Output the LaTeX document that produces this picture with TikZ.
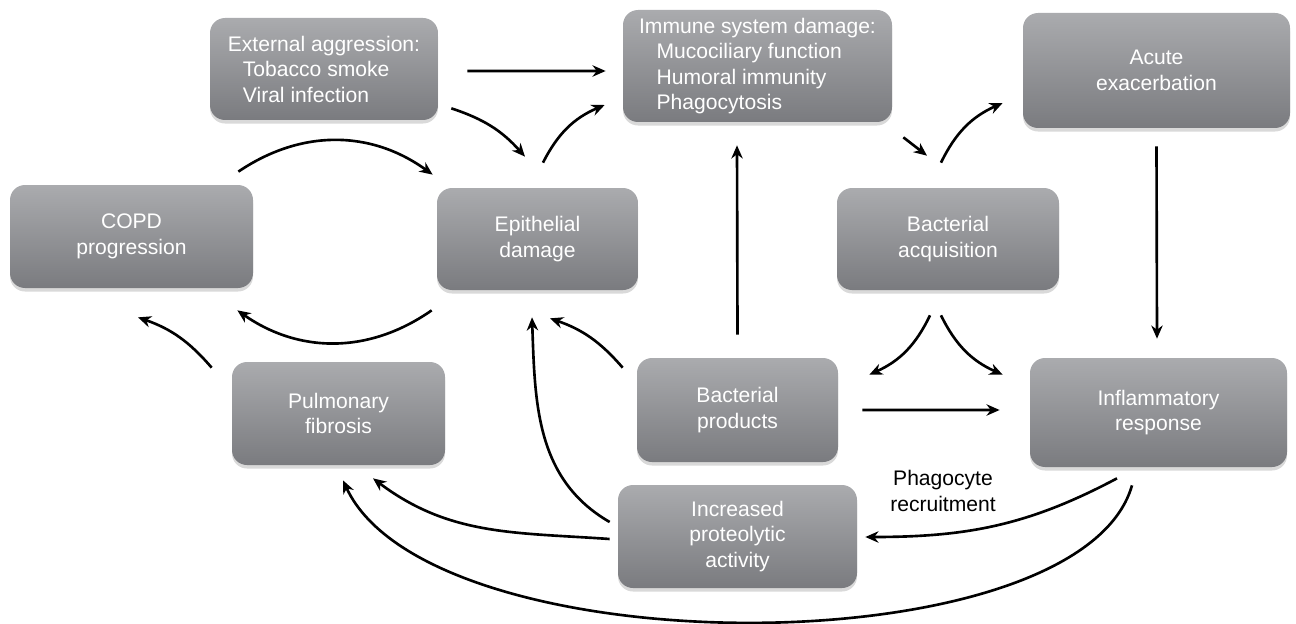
\documentclass[tikz,border=0pt]{standalone}
\usepackage{fontspec}
\setmainfont{Liberation Sans}
\usetikzlibrary{arrows.meta,shadows}

\definecolor{boxtop}{RGB}{170,171,174}
\definecolor{boxbot}{RGB}{122,123,127}

\begin{document}
\begin{tikzpicture}[>={Stealth[length=7.5pt,width=6.5pt]},
  box/.style={rounded corners=0.3cm, top color=boxtop, bottom color=boxbot,
    text=white, align=center, inner sep=0pt,
    font=\fontsize{12}{14.5}\selectfont,
    drop shadow={shadow xshift=0pt,shadow yshift=-2pt,opacity=0.3}},
  link/.style={->, line width=1.5pt}]
  \useasboundingbox (0,0) rectangle (25.92,12.46);
  % top row
  \node[box, align=left, minimum width=4.56cm, minimum height=2.04cm] (ext) at (6.48,11.08)
    {External aggression:\\\hspace*{0.3cm}Tobacco smoke\\\hspace*{0.3cm}Viral infection};
  \node[box, align=left, minimum width=5.38cm, minimum height=2.24cm] (imm) at (15.15,11.14)
    {Immune system damage:\\\hspace*{0.35cm}Mucociliary function\\\hspace*{0.35cm}Humoral immunity\\\hspace*{0.35cm}Phagocytosis};
  \node[box, minimum width=5.34cm, minimum height=2.30cm] (acute) at (23.13,11.05) {Acute\\exacerbation};
  % middle row
  \node[box, minimum width=4.86cm, minimum height=2.06cm] (copd) at (2.63,7.73) {COPD\\progression};
  \node[box, minimum width=4.02cm, minimum height=2.04cm] (epi) at (10.75,7.68) {Epithelial\\damage};
  \node[box, minimum width=4.44cm, minimum height=2.04cm] (bacq) at (18.96,7.68) {Bacterial\\acquisition};
  % lower rows
  \node[box, minimum width=4.26cm, minimum height=2.06cm] (pulm) at (6.77,4.19) {Pulmonary\\fibrosis};
  \node[box, minimum width=4.02cm, minimum height=2.08cm] (bprod) at (14.75,4.26) {Bacterial\\products};
  \node[box, minimum width=5.14cm, minimum height=2.18cm] (infl) at (23.17,4.21) {Inflammatory\\response};
  \node[box, minimum width=4.78cm, minimum height=2.06cm] (prot) at (14.75,1.73) {Increased\\proteolytic\\activity};
  \node[align=center, font=\fontsize{12}{14.5}\selectfont] (phago) at (18.86,2.64) {Phagocyte\\recruitment};
  % arrows around the top
  \draw[link] ([xshift=5.8mm,yshift=-0.4mm]ext.east) -- ([xshift=-3.4mm,yshift=-1mm]imm.west);
  \draw[link] ([xshift=2.6mm,yshift=2.4mm]ext.south east) to[bend left=15] ([xshift=-2.5mm,yshift=6.2mm]epi.north);
  \draw[link] ([xshift=1.1mm,yshift=5mm]epi.north) to[bend left=20] ([xshift=-3.6mm,yshift=-7.8mm]imm.west);
  \draw[link] ([xshift=2.2mm,yshift=-3mm]imm.south east) -- ([xshift=-4.2mm,yshift=6.4mm]bacq.north);
  \draw[link] ([xshift=-1.4mm,yshift=5mm]bacq.north) to[bend left=20] ([xshift=-4mm,yshift=-6.5mm]acute.west);
  \draw[link] ([yshift=-3.6mm]acute.south) -- ([xshift=-0.3mm,yshift=3.8mm]infl.north);
  % COPD loop
  \draw[link] ([xshift=-3mm,yshift=2.6mm]copd.north east) to[bend left=35] ([xshift=-0.8mm,yshift=2.6mm]epi.north west);
  \draw[link] ([xshift=-1mm,yshift=-4mm]epi.south west) to[bend left=35] ([xshift=-3.2mm,yshift=-4.4mm]copd.south east);
  \draw[link] ([xshift=-4mm,yshift=-1.2mm]pulm.north west) to[bend right=15] ([xshift=1.3mm,yshift=-5.8mm]copd.south);
  % bacterial products
  \draw[link] ([xshift=-2.8mm,yshift=-2mm]bprod.north west) to[bend right=15] ([xshift=2.5mm,yshift=-5.6mm]epi.south);
  \draw[link] ([yshift=4.6mm]bprod.north) -- ([xshift=-4.1mm,yshift=-4.6mm]imm.south);
  \draw[link] ([xshift=4.8mm]bprod.east) -- ([xshift=-6mm,yshift=0.5mm]infl.west);
  \draw[link] ([xshift=-3.6mm,yshift=-5mm]bacq.south) to[bend left=20] ([xshift=6.2mm,yshift=-3.4mm]bprod.north east);
  \draw[link] ([xshift=-1.4mm,yshift=-5mm]bacq.south) to[bend right=20] ([xshift=-5.4mm,yshift=-3.4mm]infl.north west);
  % proteolytic activity
  \draw[link] ([xshift=-1.6mm,yshift=2.9mm]prot.west) to[out=150,in=-88] ([xshift=-1.1mm,yshift=-5.4mm]epi.south);
  \draw[link] ([xshift=-1.6mm,yshift=-0.5mm]prot.west) to[out=176,in=-37] ([xshift=6.9mm,yshift=-2.6mm]pulm.south);
  \draw[link] ([xshift=-8.3mm,yshift=-2.2mm]infl.south) to[out=-152,in=0] ([xshift=1.6mm,yshift=-0.1mm]prot.east);
  \draw[link] ([xshift=-5.3mm,yshift=-3.6mm]infl.south) .. controls +(-1.04,-3.66) and +(1.74,-3.76) .. ([xshift=0.9mm,yshift=-3mm]pulm.south);
\end{tikzpicture}
\end{document}
